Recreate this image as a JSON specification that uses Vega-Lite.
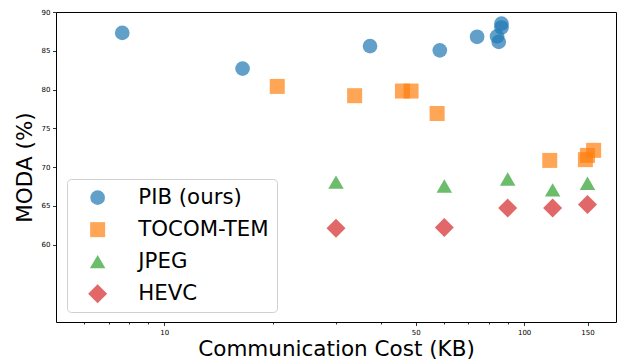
{
  "$schema": "https://vega.github.io/schema/vega-lite/v6.json",
  "autosize": {"type": "none"},
  "padding": {"left": 56, "top": 12, "right": 7, "bottom": 40},
  "width": 560,
  "height": 310,
  "config": {
    "font": "DejaVu Sans",
    "view": {"stroke": "#000000", "strokeWidth": 1},
    "axis": {
      "grid": false,
      "domain": false,
      "tickColor": "#000000",
      "tickWidth": 0.8,
      "labelFont": "DejaVu Sans",
      "labelFontSize": 7,
      "labelColor": "#000000",
      "titleFont": "DejaVu Sans",
      "titleFontSize": 21.5,
      "titleFontWeight": "normal",
      "titleColor": "#000000"
    },
    "legend": {
      "orient": "none",
      "legendX": 11,
      "legendY": 167,
      "padding": 8,
      "symbolOffset": 12,
      "labelOffset": 30,
      "labelFont": "DejaVu Sans",
      "labelFontSize": 21.3,
      "labelColor": "#000000",
      "rowPadding": 10,
      "strokeColor": "#d0d0d0",
      "cornerRadius": 4,
      "fillColor": "rgba(255,255,255,0.8)",
      "symbolOpacity": 0.7,
      "symbolStrokeWidth": 0
    }
  },
  "data": {
    "values": [
      {"method": "PIB (ours)", "cost": 7.64, "moda": 87.3},
      {"method": "PIB (ours)", "cost": 16.5, "moda": 82.7},
      {"method": "PIB (ours)", "cost": 37.3, "moda": 85.6},
      {"method": "PIB (ours)", "cost": 58.3, "moda": 85.05},
      {"method": "PIB (ours)", "cost": 74.0, "moda": 86.8},
      {"method": "PIB (ours)", "cost": 84.1, "moda": 86.85},
      {"method": "PIB (ours)", "cost": 85.0, "moda": 86.15},
      {"method": "PIB (ours)", "cost": 86.5, "moda": 88.5},
      {"method": "PIB (ours)", "cost": 86.5, "moda": 88.0},
      {"method": "TOCOM-TEM", "cost": 20.6, "moda": 80.4},
      {"method": "TOCOM-TEM", "cost": 33.8, "moda": 79.2},
      {"method": "TOCOM-TEM", "cost": 45.9, "moda": 79.8},
      {"method": "TOCOM-TEM", "cost": 48.5, "moda": 79.8},
      {"method": "TOCOM-TEM", "cost": 57.3, "moda": 76.9},
      {"method": "TOCOM-TEM", "cost": 117.8, "moda": 70.85},
      {"method": "TOCOM-TEM", "cost": 148, "moda": 70.95},
      {"method": "TOCOM-TEM", "cost": 150, "moda": 71.5},
      {"method": "TOCOM-TEM", "cost": 156, "moda": 72.15},
      {"method": "JPEG", "cost": 30, "moda": 68.05},
      {"method": "JPEG", "cost": 60, "moda": 67.55},
      {"method": "JPEG", "cost": 90, "moda": 68.45},
      {"method": "JPEG", "cost": 120, "moda": 67.05},
      {"method": "JPEG", "cost": 150, "moda": 67.9},
      {"method": "HEVC", "cost": 30, "moda": 62.1},
      {"method": "HEVC", "cost": 60, "moda": 62.2},
      {"method": "HEVC", "cost": 90, "moda": 64.7},
      {"method": "HEVC", "cost": 120, "moda": 64.7},
      {"method": "HEVC", "cost": 150, "moda": 65.15}
    ]
  },
  "mark": {"type": "point", "filled": true, "opacity": 0.7, "strokeWidth": 0},
  "encoding": {
    "x": {
      "field": "cost",
      "type": "quantitative",
      "scale": {"type": "log", "domain": [5, 180], "nice": false},
      "axis": {
        "title": "Communication Cost (KB)",
        "values": [6, 7, 8, 9, 10, 20, 30, 40, 50, 60, 70, 80, 90, 100, 150],
        "format": "d",
        "labelExpr": "(datum.value == 10 || datum.value == 50 || datum.value == 100 || datum.value == 150) ? datum.label : ''",
        "tickSize": {"condition": {"test": "datum.value == 10 || datum.value == 50 || datum.value == 100 || datum.value == 150", "value": 3.5}, "value": 2},
        "labelPadding": 2.5,
        "labelFlush": false,
        "labelOverlap": false,
        "titleBaseline": "alphabetic",
        "titleY": 33
      }
    },
    "y": {
      "field": "moda",
      "type": "quantitative",
      "scale": {"domain": [50, 90], "nice": false, "zero": false},
      "axis": {
        "title": "MODA (%)",
        "values": [60, 65, 70, 75, 80, 85, 90],
        "tickSize": 3.5,
        "labelPadding": 2.5,
        "labelFlush": false,
        "titleBaseline": "alphabetic",
        "titleX": -25,
        "titleY": 155
      }
    },
    "color": {
      "field": "method",
      "type": "nominal",
      "scale": {"domain": ["PIB (ours)", "TOCOM-TEM", "JPEG", "HEVC"], "range": ["#1f77b4", "#ff7f0e", "#2ca02c", "#d62728"]},
      "legend": {"title": null}
    },
    "shape": {
      "field": "method",
      "type": "nominal",
      "scale": {"domain": ["PIB (ours)", "TOCOM-TEM", "JPEG", "HEVC"], "range": ["circle", "square", "triangle-up", "diamond"]},
      "legend": {"title": null}
    },
    "size": {
      "field": "method",
      "type": "nominal",
      "scale": {"type": "ordinal", "domain": ["PIB (ours)", "TOCOM-TEM", "JPEG", "HEVC"], "range": [216, 225, 240, 361]},
      "legend": {"title": null}
    }
  }
}
